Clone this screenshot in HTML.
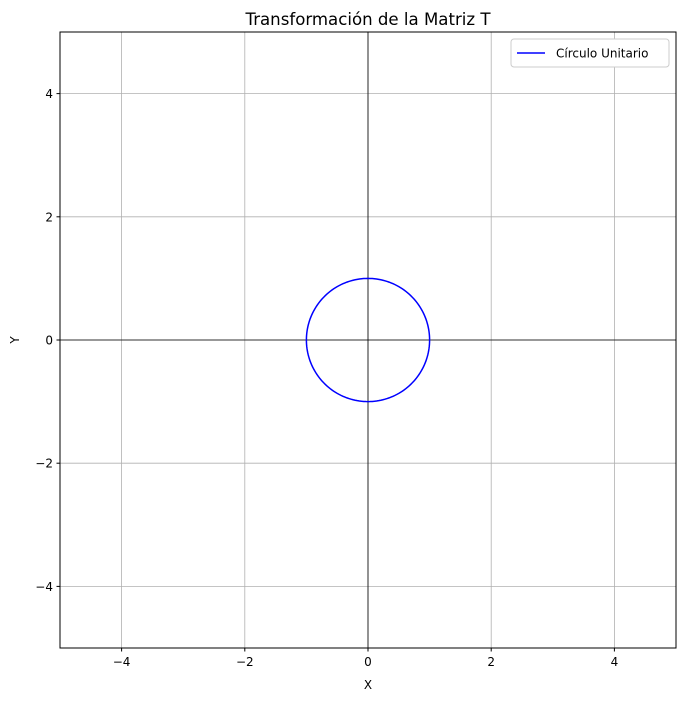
<!DOCTYPE html>
<html><head><meta charset="utf-8"><style>
body{margin:0;background:#fff;font-family:"Liberation Sans","DejaVu Sans",sans-serif;}
svg text{font-family:"DejaVu Sans","Liberation Sans",sans-serif;}
</style></head><body>
<svg id="chart" width="685" height="701" xmlns="http://www.w3.org/2000/svg">
<rect width="685" height="701" fill="#fff"/>
<g id="grid"></g>
<g id="axes"></g>
<g id="series"></g>
<rect x="60" y="32" width="616" height="616" fill="none" stroke="#000" stroke-width="1"/>
<g id="ticks"></g>
<text x="368" y="25" text-anchor="middle" font-size="16.6">Transformación de la Matriz T</text>
<text x="368" y="689" text-anchor="middle" font-size="12">X</text>
<text x="19" y="340" text-anchor="middle" font-size="12" transform="rotate(-90 19 340)">Y</text>
<g>
<rect x="511" y="39" width="158" height="28" rx="3" fill="#fff" stroke="#ccc"/>
<line x1="517" y1="53" x2="545" y2="53" stroke="#0000ff" stroke-width="1.5"/>
<text x="556" y="57.5" font-size="12">Círculo Unitario</text>
</g>
</svg>
<script>
const xTicks=[-4,-2,0,2,4];
const yTicks=[-4,-2,0,2,4];
const xTickLabels=["−4","−2","0","2","4"];
const yTickLabels=["−4","−2","0","2","4"];
const circleRadius=[1];
const NS="http://www.w3.org/2000/svg";
const sx=v=>368+v*61.6, sy=v=>340-v*61.6;
function mk(t,a,p){const e=document.createElementNS(NS,t);for(const k in a)e.setAttribute(k,a[k]);p.appendChild(e);return e;}
const g=document.getElementById('grid'),tk=document.getElementById('ticks'),ax=document.getElementById('axes'),se=document.getElementById('series');
xTicks.forEach((v,i)=>{
 const l=mk('line',{x1:sx(v),x2:sx(v),y1:32,y2:648,stroke:'#b0b0b0','stroke-width':0.8},g);
 
 
 mk('line',{x1:sx(v),x2:sx(v),y1:648,y2:651.5,stroke:'#000'},tk);
 const t=mk('text',{x:sx(v),y:666,'text-anchor':'middle','font-size':12},tk);t.textContent=xTickLabels[i];
 
 
});
yTicks.forEach((v,i)=>{
 const l=mk('line',{y1:sy(v),y2:sy(v),x1:60,x2:676,stroke:'#b0b0b0','stroke-width':0.8},g);
 
 
 mk('line',{y1:sy(v),y2:sy(v),x1:56.5,x2:60,stroke:'#000'},tk);
 const t=mk('text',{x:53,y:sy(v)+4.5,'text-anchor':'end','font-size':12},tk);t.textContent=yTickLabels[i];
 
 
});
const h=mk('line',{x1:60,x2:676,y1:sy(0),y2:sy(0),stroke:'#000','stroke-width':0.8},ax);


const vline=mk('line',{y1:32,y2:648,x1:sx(0),x2:sx(0),stroke:'#000','stroke-width':0.8},ax);


const r=circleRadius[0];
const pts=[];for(let d=0;d<=360;d+=2){const a=d*Math.PI/180;pts.push(sx(r*Math.cos(a)).toFixed(2)+','+sy(r*Math.sin(a)).toFixed(2));}
const c=mk('polyline',{points:pts.join(' '),fill:'none',stroke:'#0000ff','stroke-width':1.5},se);


</script>
</body></html>
